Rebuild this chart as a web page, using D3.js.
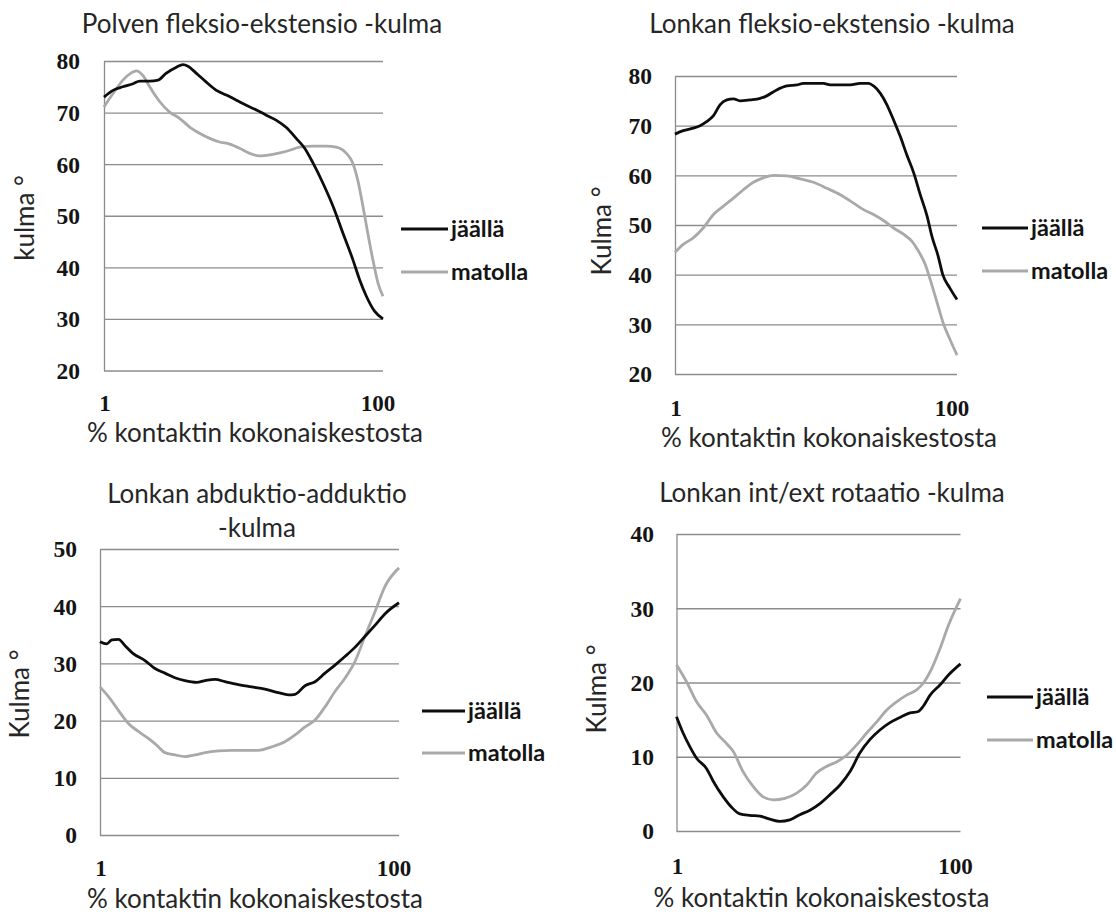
<!DOCTYPE html>
<html><head><meta charset="utf-8">
<script src="https://cdn.jsdelivr.net/npm/d3@7"></script>
<style>
html,body{margin:0;padding:0;background:#fff;}
svg{display:block;}
</style></head>
<body>
<svg id="chart" width="1116" height="915"></svg>
<script>
// ---------- DATA ----------
const seriesNames = ["jäällä", "matolla"];
const xTickValues = [1, 100];
const xAxisTitle = "% kontaktin kokonaiskestosta";

const titles = [
  ["Polven fleksio-ekstensio -kulma"],
  ["Lonkan fleksio-ekstensio -kulma"],
  ["Lonkan abduktio-adduktio", "-kulma"],
  ["Lonkan int/ext rotaatio -kulma"]
];
const yTitles = ["kulma °", "Kulma °", "Kulma °", "Kulma °"];
const yTicks1 = [20, 30, 40, 50, 60, 70, 80];
const yTicks2 = [20, 30, 40, 50, 60, 70, 80];
const yTicks3 = [0, 10, 20, 30, 40, 50];
const yTicks4 = [0, 10, 20, 30, 40];

// [% of contact, angle]
const kneeIce = [[1,73.0],[4.2,74.3],[7.7,75],[11.3,75.6],[13.7,76.1],[17.2,76.1],[20.2,76.3],[23,77.6],[26.7,78.8],[29,79.3],[30.8,79],[33.8,77.6],[37.3,75.9],[40.9,74.3],[44.4,73.4],[48,72.4],[51.5,71.4],[55.1,70.5],[58.6,69.5],[62.2,68.5],[65.7,67.1],[69.2,65],[72.2,63.1],[75.2,60.2],[78.7,56.3],[82.3,51.8],[85.8,46.6],[89.3,41.5],[91.7,37.6],[94.1,34.4],[97,31.5],[100,30.0]];
const kneeMat = [[1,71.1],[4.2,73.7],[7.7,76.3],[10.7,77.7],[12.5,78.1],[14.8,77.2],[17.2,75],[20.8,72.1],[24.3,70.1],[27.8,68.9],[31.4,67.2],[34.9,66],[38.5,65],[42,64.3],[45.6,63.9],[49.1,63.1],[52.7,62.1],[56.2,61.6],[59.8,61.8],[63.4,62.2],[66.9,62.7],[70.4,63.3],[75.2,63.5],[79.9,63.5],[83.4,63.3],[87,62.1],[89.3,60.2],[91,57],[92.9,51.8],[94.6,46.6],[96.4,41.5],[98.2,37],[100,34.4]];
const hipFlexIce = [[1,68.3],[3.9,69],[7.4,69.5],[9.8,70],[12.1,70.8],[14.5,72],[16.8,74.2],[19.2,75.2],[21.5,75.4],[23.8,75],[27.4,75.2],[30.9,75.5],[33.2,76],[36.7,77.2],[40.3,78],[43.8,78.2],[46.1,78.5],[49.6,78.5],[53.1,78.5],[55.5,78.2],[59,78.2],[62.5,78.2],[66,78.5],[69,78.5],[70.7,78],[73.1,76.5],[75.4,74.2],[77.7,71.2],[80.1,67.8],[82.4,64.1],[84.8,60.5],[87.1,56.1],[89.5,51.8],[91.2,47.7],[93.4,43.7],[95,40],[97.5,37.3],[100,35]];
const hipFlexMat = [[1,44.5],[3.9,46.1],[7.4,47.4],[10.9,49.4],[14.5,52.1],[18,53.8],[21.5,55.4],[25,57.1],[28.5,58.6],[32,59.5],[35.6,60],[40.3,59.9],[44.9,59.3],[49.6,58.6],[54.3,57.4],[59,56.1],[63.7,54.4],[67.2,53.1],[70.7,52.1],[74.2,50.9],[77.7,49.4],[81.3,48.1],[84.2,46.7],[86.5,44.7],[88.9,42],[90.6,39],[93,34.4],[95.3,30],[97.5,27],[100,23.8]];
const abdIce = [[1,33.8],[3.2,33.4],[4.9,34.1],[7.1,34.2],[9.3,33.1],[12,31.7],[15.9,30.5],[19.2,29.1],[22.5,28.3],[25.8,27.5],[29.1,27],[33,26.7],[35.8,27],[39.1,27.2],[42.4,26.8],[46.8,26.3],[51.2,25.9],[55.6,25.5],[60,24.9],[63.4,24.5],[65.6,24.6],[68.9,26.1],[72.2,26.8],[75.5,28.3],[78.8,29.7],[82.1,31.2],[85.4,32.8],[88.7,34.7],[92.1,36.7],[95.4,38.7],[100,40.6]];
const abdMat = [[1,25.9],[3.8,24.2],[7.1,21.8],[10.4,19.5],[13.7,18.1],[17,16.9],[19.8,15.7],[22.5,14.4],[25.8,14],[29.1,13.7],[32.5,14],[35.8,14.4],[40.2,14.7],[44.6,14.8],[49,14.8],[53.4,14.8],[57.8,15.4],[62.2,16.3],[65.6,17.5],[68.9,18.9],[72.2,20.1],[75.5,22.4],[78.8,25.1],[82.1,27.4],[85.4,30.3],[88.7,34.7],[92.1,39.1],[95.4,43.5],[100,46.7]];
const rotIce = [[1,15.4],[3.3,13.2],[5.6,11.4],[8,9.8],[11.5,8.4],[13.8,6.7],[17.3,4.6],[20.2,3.2],[23.1,2.3],[26.6,2.1],[30.1,2],[33.5,1.6],[37,1.3],[40.5,1.5],[44,2.2],[47.5,2.8],[51,3.7],[54.5,4.9],[58,6.2],[61.5,8],[64.9,10.5],[68.4,12.3],[71.9,13.6],[75.4,14.6],[78.9,15.3],[82.4,15.9],[85.3,16.1],[87,16.8],[89.4,18.3],[92.9,19.7],[95.8,21],[100,22.5]];
const rotMat = [[1,22.4],[4.5,20.1],[8,17.4],[11.5,15.6],[15,13.2],[18.4,11.8],[20.8,10.7],[24.2,8],[27.7,6],[31.2,4.6],[34.7,4.2],[38.8,4.4],[42.9,5.1],[46.4,6.2],[49.8,7.8],[53.3,8.7],[56.8,9.3],[60.3,10.2],[63.8,11.6],[67.3,13.2],[70.8,14.7],[74.3,16.3],[77.7,17.4],[81.2,18.3],[84.7,19],[87,19.9],[90,21.9],[92.9,24.6],[95.8,27.7],[100,31.3]];

// ---------- LAYOUT ----------
const panels = [
  {title: titles[0], yTitle: yTitles[0], yTicks: yTicks1, ice: kneeIce, mat: kneeMat,
   left:104, right:383, top:61, bottom:370.5, titleX:262, titleY:33,
   yTitleX:34, yTitleY:218, tickX:80, xTickY:411, xTitleX:255, xTitleY:442,
   legX1:401, legX2:448, legY1:229, legY2:272, legTX:451},
  {title: titles[1], yTitle: yTitles[1], yTicks: yTicks2, ice: hipFlexIce, mat: hipFlexMat,
   left:675, right:957, top:76, bottom:374, titleX:832, titleY:33,
   yTitleX:611, yTitleY:231, tickX:652, xTickY:416, xTitleX:829, xTitleY:447,
   legX1:982, legX2:1028, legY1:228, legY2:271, legTX:1031},
  {title: titles[2], yTitle: yTitles[2], yTicks: yTicks3, ice: abdIce, mat: abdMat,
   left:100, right:399, top:549, bottom:835, titleX:257, titleY:503,
   yTitleX:28.5, yTitleY:694, tickX:77, xTickY:876, xTitleX:255, xTitleY:908,
   legX1:422, legX2:465, legY1:711, legY2:753, legTX:468},
  {title: titles[3], yTitle: yTitles[3], yTicks: yTicks4, ice: rotIce, mat: rotMat,
   left:676.5, right:960.5, top:534, bottom:831, titleX:832, titleY:502,
   yTitleX:606, yTitleY:689, tickX:654, xTickY:874, xTitleX:821.5, xTitleY:907,
   legX1:987, legX2:1033, legY1:697, legY2:740, legTX:1036}
];

const SANS = "Lato, 'Open Sans', sans-serif";
const SERIF = "'Liberation Serif', 'DejaVu Serif', serif";
const gridColor = "#8c8c8c";
const iceColor = "#0d0d0d";
const matColor = "#a9a9a9";
const textColor = "#262626";

const svg = d3.select("#chart");

panels.forEach(p => {
  const g = svg.append("g");
  const x = d3.scaleLinear().domain([1, 100]).range([p.left, p.right]);
  const y = d3.scaleLinear().domain(d3.extent(p.yTicks)).range([p.bottom, p.top]);

  // grid + left axis
  const ax = g.append("g").attr("transform", `translate(${p.left},0)`)
    .call(d3.axisLeft(y).tickValues(p.yTicks).tickSize(-(p.right - p.left)).tickSizeOuter(0).tickFormat(""));
  ax.selectAll(".tick line").attr("stroke", gridColor).attr("stroke-width", 1.3);
  ax.select(".domain").attr("stroke", gridColor).attr("stroke-width", 1.3);

  // y tick labels
  g.selectAll("text.ytick").data(p.yTicks).join("text")
    .attr("class", "ytick")
    .attr("x", p.tickX).attr("y", d => y(d))
    .attr("dy", "0.36em")
    .attr("text-anchor", "end")
    .attr("font-family", SERIF).attr("font-weight", "bold").attr("font-size", 23.5)
    .attr("fill", "#141414")
    .text(d => d);

  // x tick labels
  g.selectAll("text.xtick").data(xTickValues).join("text")
    .attr("class", "xtick")
    .attr("x", d => x(d) + (d === 100 ? -5 : 1)).attr("y", p.xTickY)
    .attr("text-anchor", "middle")
    .attr("font-family", SERIF).attr("font-weight", "bold").attr("font-size", 23)
    .attr("fill", "#141414")
    .text(d => d);

  // lines
  const line = d3.line().x(d => x(d[0])).y(d => y(d[1])).curve(d3.curveMonotoneX);
  g.append("path").datum(p.mat).attr("d", line)
    .attr("fill", "none").attr("stroke", matColor).attr("stroke-width", 2.8).attr("stroke-linejoin", "round");
  g.append("path").datum(p.ice).attr("d", line)
    .attr("fill", "none").attr("stroke", iceColor).attr("stroke-width", 2.8).attr("stroke-linejoin", "round");

  // title
  const t = g.append("text").attr("x", p.titleX).attr("y", p.titleY)
    .attr("text-anchor", "middle").attr("font-family", SANS).attr("font-size", 26).attr("fill", textColor);
  p.title.forEach((s, i) => t.append("tspan").attr("x", p.titleX).attr("dy", i === 0 ? 0 : 33.5).text(s));

  // y title
  g.append("text").attr("transform", `translate(${p.yTitleX},${p.yTitleY}) rotate(-90)`)
    .attr("text-anchor", "middle").attr("font-family", SANS).attr("font-size", 26).attr("fill", textColor)
    .text(p.yTitle);

  // x title
  g.append("text").attr("x", p.xTitleX).attr("y", p.xTitleY)
    .attr("text-anchor", "middle").attr("font-family", SANS).attr("font-size", 26).attr("fill", textColor)
    .text(xAxisTitle);

  // legend
  const leg = [
    {name: seriesNames[0], color: iceColor, y: p.legY1},
    {name: seriesNames[1], color: matColor, y: p.legY2}
  ];
  leg.forEach(l => {
    g.append("line").attr("x1", p.legX1).attr("x2", p.legX2).attr("y1", l.y).attr("y2", l.y)
      .attr("stroke", l.color).attr("stroke-width", 2.8);
    g.append("text").attr("x", p.legTX).attr("y", l.y).attr("dy", "0.32em")
      .attr("font-family", SANS).attr("font-weight", "bold").attr("font-size", 23.5).attr("fill", "#141414")
      .text(l.name);
  });
});
</script>
</body></html>
